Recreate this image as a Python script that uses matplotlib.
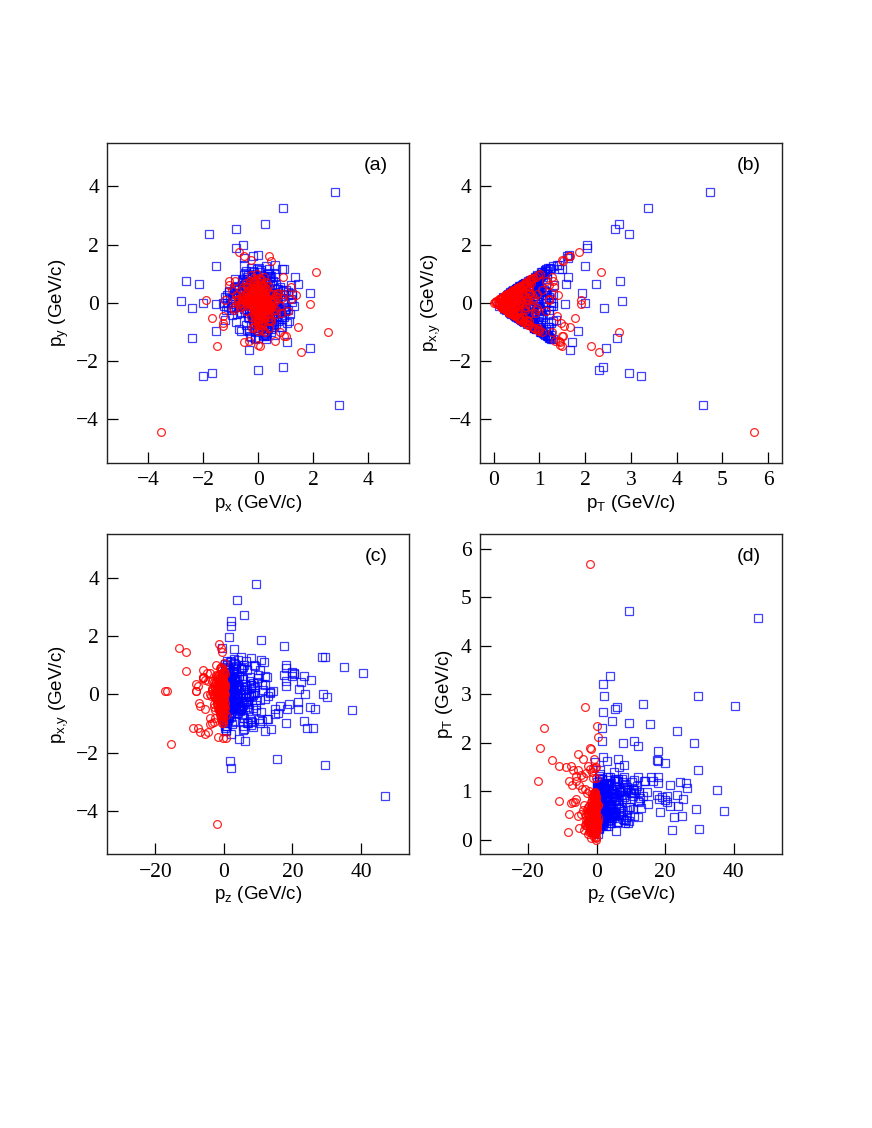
import numpy as np
import matplotlib
matplotlib.use("Agg")
import matplotlib.pyplot as plt

# ---- momenta (GeV/c) ----
# red circles: spread cloud + scattered points
red_px = [0.05, -0.12, 0.22, -0.31, 0.10, -0.45, 0.38, -0.05, 0.15, -0.22,
          0.30, -0.18, 0.02, -0.40, 0.48, -0.08, 0.12, -0.55, 0.25, -0.28,
          0.60, -0.02, 0.18, -0.35, 0.08, -0.62, 0.42, -0.15, 0.33, -0.25,
          -0.70, 0.55, -0.10, 0.28, -0.48, 0.04, 0.68, -0.38, 0.20, -0.06,
          0.14, -0.52, 0.36, -0.20, 0.00, 0.46, -0.33, 0.09, -0.75, 0.24,
          0.72, -0.12, 0.31, -0.44, 0.06, -0.27, 0.52, -0.58, 0.16, -0.03,
          0.40, -0.36, 0.11, -0.66, 0.27, -0.16, 0.58, -0.09, 0.35, -0.50,
          -0.80, 0.64, -0.24, 0.07, -0.42, 0.19, 0.83, -0.30, 0.45, -0.14,
          0.03, -0.60, 0.26, -0.07, 0.50, -0.34, 0.13, -0.85, 0.37, -0.19,
          0.78, -0.46, 0.21, -0.01, 0.62, -0.23, 0.08, -0.72, 0.44, -0.11,
          0.90, -0.92, 0.17, -0.37, 0.29, -0.54, 0.05, 0.66, -0.26, 0.12,
          -0.64, 0.39, -0.04, 0.86, -0.88, 0.23, -0.17, 0.47, -0.41, 0.01,
          -3.55, 2.10, 2.55, 1.55, -1.50, 1.90, -1.90, 1.20, 1.45, -1.70,
          -1.30, -1.30, -1.30, -0.70, -0.50, -0.25, 1.20, 1.38, 1.00, 0.80,
          0.60, -0.50, -0.35, 0.00, 0.05, -0.85, -1.05, -1.05, -1.20, 1.10,
          0.40, 0.45, 0.10, 0.95, 0.10, 0.40, -0.55, 0.70, 0.90, -0.95]
red_py = [0.12, -0.20, 0.35, 0.05, -0.42, 0.18, -0.08, 0.50, -0.30, 0.25,
          -0.15, 0.40, -0.55, 0.02, 0.10, -0.35, 0.62, -0.12, 0.28, -0.48,
          0.06, -0.65, 0.44, 0.22, -0.26, 0.00, -0.18, 0.70, -0.40, 0.15,
          -0.05, 0.30, -0.72, 0.48, 0.08, -0.58, 0.20, -0.10, 0.55, 0.38,
          -0.32, 0.14, -0.22, 0.64, -0.75, 0.04, 0.26, -0.46, 0.10, -0.02,
          0.34, -0.60, 0.16, -0.28, 0.80, 0.42, -0.08, 0.24, -0.38, 0.58,
          -0.50, 0.07, 0.68, -0.16, 0.46, -0.82, 0.12, 0.32, -0.64, 0.20,
          0.28, -0.24, 0.52, -0.90, 0.36, 0.60, -0.36, 0.74, -0.14, -0.44,
          0.85, 0.02, -0.52, 0.40, -0.30, 0.18, -0.70, 0.10, 0.56, -0.06,
          -0.12, 0.66, 0.90, -0.34, 0.22, -0.86, 0.48, 0.14, -0.58, 0.78,
          0.30, -0.18, -0.95, 0.62, 0.72, 0.08, -0.78, -0.40, 0.94, -0.66,
          0.44, -0.88, 1.00, 0.16, -0.26, -1.02, 0.84, -0.62, 0.54, -0.98,
          -4.45, 1.07, -1.00, -1.70, -1.50, -0.05, 0.10, 0.12, -0.82, -0.52,
          -0.45, -0.70, -0.80, 1.73, 1.60, 1.47, 0.55, 0.28, -1.15, -1.00,
          -1.30, -1.35, -1.30, -1.45, -1.50, 0.75, 0.75, 0.60, 0.10, -0.30,
          1.60, 1.45, 0.80, -1.15, 0.12, 0.35, 0.55, 0.30, 0.90, 0.45]
red_pz = [-0.3, -1.1, -0.6, -2.0, -0.1, -0.9, -1.5, -0.4, 0.2, -2.6,
          -0.8, -0.2, -1.3, -3.2, -0.5, 0.1, -1.8, -0.7, -0.05, -1.0,
          -2.3, -0.4, -0.9, -0.15, -1.6, -4.0, -0.6, 0.3, -1.2, -0.25,
          -0.7, -2.8, -0.35, -1.4, -0.1, -0.85, -3.6, -0.55, -1.9, 0.0,
          -0.45, -1.05, -0.2, -2.4, -0.75, -0.3, -1.7, 0.4, -0.95, -5.0,
          -0.15, -1.25, -2.1, -0.6, -0.05, -3.0, -0.8, -1.45, -0.35, -0.5,
          -1.15, -0.1, -2.2, -0.65, -4.5, -0.9, -0.25, -1.55, 0.15, -3.4,
          -0.4, -0.7, -1.35, -0.2, -2.7, -1.0, -0.5, -0.05, -1.85, -0.3,
          -6.0, -0.6, -1.6, -0.15, -0.95, -2.5, 0.5, -1.2, -0.45, -3.8,
          -0.2, -1.4, -0.75, -2.0, -0.1, -0.55, -5.5, -0.85, -1.1, -0.35,
          -0.7, -1.3, -2.9, -0.25, -0.6, -1.75, -0.4, -7.0, -0.9, -0.15,
          -1.5, -0.5, -2.2, -0.3, -1.0, -4.2, -0.8, -0.2, -1.65, -0.45,
          -2.0, 0.0, -3.5, -15.3, 0.5, -2.0, -16.5, -17.2, -4.0, -5.5,
          -3.0, -1.0, -2.5, -1.5, -0.8, -0.5, -6.0, -1.2, -7.5, -0.3,
          -7.0, -5.5, -4.5, -1.8, -0.2, -5.0, -4.0, -6.0, -8.0, -7.2,
          -13.0, -11.0, -11.0, -9.0, -8.2, -8.0, -6.2, -7.5, -1.0, -3.5]

# red circles: the dense low-momentum core
red_px_core = [0.02, -0.08, 0.15, -0.18, 0.06, -0.25, 0.20, -0.03, 0.10, -0.14,
               0.28, -0.10, 0.00, -0.22, 0.12, -0.05, 0.18, -0.30, 0.08, -0.16,
               0.24, -0.01, 0.04, -0.12, 0.32, -0.20, 0.14, -0.07, 0.09, -0.27,
               -0.34, 0.22, -0.04, 0.16, -0.11, 0.01, 0.30, -0.24, 0.05, -0.09,
               0.11, -0.19, 0.26, -0.02, 0.07, -0.29, 0.19, -0.13, 0.03, -0.06,
               0.35, -0.15, 0.13, -0.33, 0.00, 0.21, -0.21, 0.08, -0.36, 0.17,
               -0.04, 0.27, -0.17, 0.10, -0.26, 0.05, 0.38, -0.08, 0.23, -0.12,
               0.01, -0.31, 0.15, -0.05, 0.29, -0.23, 0.06, -0.40, 0.18, -0.10,
               0.40, -0.02, 0.12, -0.18, 0.25, -0.35, 0.03, 0.33, -0.14, 0.09,
               -0.28, 0.20, -0.06, 0.36, -0.38, 0.14, -0.09, 0.02, -0.20, 0.07,
               0.16, -0.25, 0.31, -0.03, 0.04, -0.16, 0.22, -0.30, 0.11, -0.01,
               -0.12, 0.34, -0.22, 0.06, 0.27, -0.07, 0.13, -0.32, 0.19, 0.00]
red_py_core = [0.05, 0.18, -0.10, 0.02, -0.25, 0.12, 0.28, -0.06, -0.18, 0.22,
               -0.02, -0.30, 0.14, 0.08, 0.35, -0.15, -0.04, 0.10, 0.26, -0.22,
               0.16, 0.04, -0.34, -0.12, 0.00, 0.30, -0.20, 0.38, -0.08, 0.06,
               0.20, -0.26, 0.11, 0.32, -0.38, 0.24, -0.14, 0.03, 0.42, -0.32,
               -0.09, 0.15, 0.07, -0.44, 0.19, -0.05, -0.28, 0.36, 0.01, 0.27,
               -0.11, 0.40, -0.24, 0.13, -0.17, 0.09, 0.33, -0.36, 0.02, -0.21,
               0.29, -0.07, 0.21, -0.40, 0.10, 0.45, -0.03, 0.17, -0.30, -0.46,
               0.37, 0.00, -0.16, 0.25, 0.12, -0.08, -0.42, 0.06, 0.31, 0.48,
               -0.19, -0.35, 0.23, 0.44, -0.01, 0.14, 0.50, -0.27, -0.12, 0.34,
               0.08, -0.48, 0.39, -0.10, 0.18, -0.23, 0.05, -0.52, 0.26, 0.41,
               -0.33, 0.02, -0.14, 0.55, -0.40, 0.22, -0.06, 0.11, -0.29, -0.55,
               0.47, -0.18, 0.32, 0.15, -0.09, 0.52, -0.37, 0.20, -0.04, 0.00]
red_pz_core = [-0.2, -0.6, -1.0, -0.1, -0.4, -1.4, -0.3, -0.8, 0.1, -1.8,
               -0.5, -0.15, -1.1, -0.25, -0.7, -2.2, -0.05, -0.9, -0.35, -1.3,
               -0.6, -0.1, -1.6, -0.45, 0.2, -0.8, -1.2, -0.3, -2.6, -0.55,
               -0.15, -1.0, -0.4, -1.9, -0.7, 0.05, -1.5, -0.25, -0.85, -3.0,
               -0.35, -0.65, -1.25, -0.1, -2.0, -0.5, -0.95, 0.3, -1.7, -0.2,
               -0.75, -1.1, -0.3, -2.4, -0.55, -0.05, -1.35, -0.85, -0.4, -1.8,
               -0.15, -2.8, -0.6, -1.0, 0.0, -1.45, -0.35, -0.7, -2.1, -0.25,
               -0.9, -0.45, -1.6, -0.1, -3.4, -0.8, -1.2, -0.3, 0.15, -0.6,
               -1.55, -0.2, -0.95, -2.3, -0.5, -1.05, -0.15, -0.75, -1.9, -0.4,
               -0.05, -1.3, -0.65, -2.7, -0.3, -0.9, -1.15, -0.5, 0.25, -1.4,
               -0.2, -0.8, -2.0, -0.45, -1.0, -0.1, -1.65, -0.6, -0.35, -2.5,
               -1.1, -0.25, -0.7, -1.5, -0.05, -0.95, -0.4, -1.8, -0.55, -0.15]

# blue squares: spread cloud + scattered points
blue_px = [0.10, -0.35, 0.62, -0.80, 0.25, -0.12, 0.95, -0.55, 0.40, -1.05,
           0.05, 0.78, -0.28, 0.50, -0.68, 0.18, -0.92, 1.10, -0.15, 0.33,
           -0.45, 0.85, 0.00, -1.20, 0.58, -0.22, 0.30, -0.75, 1.25, -0.05,
           0.70, -0.38, 0.12, -0.98, 0.46, -0.60, 1.02, -0.18, 0.22, -0.85,
           0.90, -0.02, -0.50, 0.64, -1.12, 0.36, -0.30, 0.80, -0.65, 0.15,
           -0.90, 0.52, 1.15, -0.25, 0.08, -0.72, 0.42, -1.30, 0.74, -0.10,
           0.28, -0.58, 0.98, -0.40, 0.60, -0.95, 0.02, 1.20, -0.48, 0.35,
           -1.00, 0.68, -0.20, 0.88, -0.62, 0.48, -0.08, 1.05, -0.82, 0.20,
           -0.34, 0.55, -1.15, 0.92, -0.52, 0.14, 0.76, -0.70, 0.38, -0.16,
           1.30, -0.44, 0.26, -0.88, 0.66, -0.26, 0.04, -1.08, 0.84, -0.56,
           0.44, -0.78, 1.08, -0.12, 0.32, -0.66, 0.72, -0.36, 0.96, -1.22,
           0.16, -0.46, 0.58, -0.94, 0.82, -0.06, -0.64, 1.18, -0.24, 0.50,
           -0.84, 0.24, -0.54, 0.94, -1.02, 0.06, 0.64, -0.32, 0.86, -0.74,
           0.40, -1.25, 0.12, -0.42, 1.00, -0.14, 0.54, -0.90, 0.30, -0.60,
           0.74, -0.22, 1.12, -0.76, 0.18, -0.50, 0.90, -1.10, 0.46, -0.04,
           -0.30, 0.62, -0.86, 0.34, -0.70, 1.22, -0.18, 0.80, -0.40, 0.08,
           0.56, -1.18, 0.22, -0.58, 0.98, -0.96, 0.42, -0.28, 0.70, -0.12,
           2.80, 0.90, 0.25, -0.80, -1.80, -0.55, -0.80, 0.00, -1.55, -2.65,
           -2.15, -2.80, -2.00, -2.40, -1.55, -1.55, -2.40, -2.00, -1.70, 0.00,
           0.90, 1.90, 2.95, 1.90, 1.45, 1.35, -0.35, 1.05, 0.45, 0.20,
           0.60, 0.20, 0.63, 0.20, 0.30, 0.20, 0.70, 0.95, 0.20, 0.20,
           0.10, 0.70, 0.50, 1.10, 0.30, 0.30, 0.30, 0.60, 1.25, 0.30,
           0.30, 0.40, 0.50, 0.30, -0.50, 0.60, -0.20, -0.50, 0.85, 0.95]
blue_py = [-0.20, 0.45, 0.10, -0.65, 0.82, -1.00, 0.30, 0.05, -0.55, 0.40,
           0.95, -0.30, -0.78, 0.60, 0.15, -1.10, -0.05, 0.25, 1.05, -0.42,
           0.70, -0.85, -1.22, 0.20, 0.50, 0.88, -0.68, -0.15, 0.02, 1.15,
           -0.48, 0.35, 0.78, -0.25, -0.92, 0.62, 0.42, -0.60, -1.05, 0.80,
           0.08, -0.72, 1.00, -0.38, 0.28, 0.98, -1.15, 0.55, -0.10, 0.66,
           0.32, -0.50, -0.40, 1.20, -0.88, 0.45, 0.72, -0.02, -0.62, -1.25,
           0.86, 0.18, -0.30, -0.95, 0.90, -0.44, 0.58, 0.12, 0.75, -0.80,
           -0.18, 0.30, 1.10, -0.56, -0.36, -1.02, 0.68, -0.70, 0.48, 0.92,
           -0.98, 0.76, 0.00, 0.40, 0.62, -0.64, -0.22, -0.90, 1.02, 0.52,
           -0.12, -0.75, -0.45, 0.22, 0.65, -0.35, 1.18, 0.36, -0.84, 0.10,
           0.84, 0.56, 0.38, -1.20, -0.82, -0.06, 0.48, 0.96, -0.26, -0.58,
           -0.90, 1.08, -0.52, 0.04, -0.32, 0.74, -0.96, 0.60, 0.26, -0.66,
           0.54, -1.08, 0.82, -0.14, 0.16, -0.44, -0.74, 0.64, -0.50, 0.34,
           -0.60, -0.10, 1.12, 0.88, -0.20, -0.86, 0.24, 0.50, -1.12, 0.78,
           0.14, 1.00, -0.64, -0.40, -0.30, 0.94, 0.42, -0.16, -0.70, -0.88,
           0.58, 0.06, 0.22, -0.92, 0.46, 0.28, -0.54, -0.34, 0.82, 1.04,
           -0.76, -0.24, -1.00, 0.70, -0.06, 0.16, 0.92, -1.18, -0.46, 0.38,
           3.80, 3.25, 2.72, 2.52, 2.35, 1.97, 1.88, 1.65, 1.27, 0.75,
           0.63, 0.05, 0.00, -0.18, -0.05, -0.98, -1.23, -2.52, -2.43, -2.30,
           -2.22, -1.55, -3.50, 0.32, 0.63, 0.90, -1.62, -1.35, 0.93, -0.55,
           1.30, -0.10, 0.02, -1.15, -1.15, -0.90, 0.48, -0.50, -0.45, 0.42,
           0.18, 0.02, -0.50, -0.25, 0.77, 0.72, -0.50, 1.00, 0.30, -1.25,
           -1.00, 1.17, -0.85, 1.25, 1.30, -1.10, 1.60, 1.55, 1.15, 1.15]
blue_pz = [0.8, 2.5, 0.3, 4.2, 1.5, 6.8, 0.5, 3.1, 9.5, 1.2,
           5.5, 0.2, 2.0, 12.5, 3.8, 0.9, 7.2, 1.8, 0.4, 4.8,
           2.8, 10.2, 0.6, 5.0, 1.4, 3.4, 15.0, 0.1, 6.2, 2.2,
           8.5, 1.0, 3.0, 0.7, 11.0, 4.5, 1.9, 0.3, 7.8, 2.6,
           13.5, 0.5, 5.8, 1.6, 3.6, 9.0, 0.2, 2.4, 6.5, 1.1,
           4.0, 0.8, 16.5, 2.9, 0.4, 7.5, 1.3, 3.3, 10.8, 0.6,
           5.2, 2.1, 0.9, 8.2, 1.7, 4.4, 0.3, 14.2, 2.7, 6.0,
           1.0, 3.7, 11.8, 0.5, 5.6, 2.3, 9.8, 1.5, 0.2, 4.9,
           7.0, 1.2, 3.2, 0.7, 12.0, 2.0, 6.4, 0.4, 8.8, 1.8,
           3.9, 0.1, 5.3, 2.5, 17.5, 1.4, 4.1, 0.9, 7.6, 3.0,
           0.6, 10.0, 2.2, 5.9, 1.6, 13.0, 0.3, 3.5, 6.8, 1.0,
           8.0, 2.8, 0.5, 4.6, 19.0, 1.3, 3.1, 0.8, 9.2, 5.4,
           2.0, 0.2, 6.6, 1.7, 11.5, 3.6, 0.7, 4.3, 14.8, 2.4,
           0.4, 7.4, 1.9, 5.1, 0.6, 12.8, 3.4, 1.1, 8.4, 2.6,
           6.1, 0.9, 15.8, 1.5, 4.0, 0.3, 9.6, 2.1, 5.7, 1.2,
           3.8, 0.5, 7.9, 2.9, 18.2, 1.6, 4.7, 0.8, 10.5, 3.3,
           1.4, 6.3, 0.2, 20.5, 2.3, 5.0, 0.6, 13.8, 3.0, 8.6,
           9.5, 3.8, 6.0, 2.0, 2.2, 1.5, 10.8, 17.5, 28.5, 40.5,
           23.5, 13.5, 7.8, 9.5, 8.0, 18.0, 5.5, 2.0, 29.5, 1.7,
           15.5, 4.5, 47.0, 12.0, 20.0, 18.0, 6.2, 2.0, 35.0, 37.3,
           29.5, 30.0, 29.0, 26.0, 24.2, 23.5, 25.3, 26.5, 25.0, 22.5,
           22.0, 23.6, 21.5, 21.5, 20.0, 20.5, 18.5, 18.0, 18.0, 12.0,
           10.5, 10.8, 12.5, 8.0, 5.0, 5.5, -0.5, 3.0, 0.9, 6.5]

# blue squares: the dense low-momentum core
blue_px_core = [0.05, -0.20, 0.32, -0.42, 0.14, -0.08, 0.48, -0.30, 0.22, -0.55,
                0.00, 0.38, -0.15, 0.26, -0.36, 0.10, -0.50, 0.58, -0.06, 0.18,
                -0.25, 0.44, 0.02, -0.62, 0.30, -0.12, 0.16, -0.40, 0.65, -0.03,
                0.36, -0.22, 0.07, -0.52, 0.24, -0.32, 0.54, -0.10, 0.12, -0.45,
                0.46, -0.01, -0.28, 0.34, -0.58, 0.20, -0.16, 0.42, -0.35, 0.08,
                -0.48, 0.28, 0.60, -0.14, 0.04, -0.38, 0.22, -0.68, 0.40, -0.05,
                0.15, -0.30, 0.52, -0.21, 0.32, -0.50, 0.01, 0.62, -0.26, 0.19,
                -0.54, 0.36, -0.11, 0.46, -0.33, 0.25, -0.04, 0.56, -0.44, 0.11,
                -0.18, 0.30, -0.60, 0.48, -0.27, 0.07, 0.40, -0.37, 0.20, -0.09,
                0.70, -0.23, 0.14, -0.46, 0.35, -0.14, 0.02, -0.57, 0.44, -0.30,
                0.23, -0.41, 0.57, -0.06, 0.17, -0.35, 0.38, -0.19, 0.51, -0.64,
                0.09, -0.24, 0.31, -0.49, 0.43, -0.03, -0.34, 0.63, -0.13, 0.27]
blue_py_core = [-0.10, 0.24, 0.06, -0.35, 0.44, -0.52, 0.16, 0.03, -0.30, 0.21,
                0.50, -0.16, -0.42, 0.32, 0.08, -0.58, -0.02, 0.14, 0.56, -0.22,
                0.38, -0.45, -0.64, 0.11, 0.27, 0.47, -0.36, -0.08, 0.01, 0.61,
                -0.26, 0.19, 0.42, -0.13, -0.49, 0.33, 0.22, -0.32, -0.56, 0.43,
                0.04, -0.38, 0.53, -0.20, 0.15, 0.52, -0.61, 0.29, -0.05, 0.35,
                0.17, -0.27, -0.21, 0.64, -0.47, 0.24, 0.38, -0.01, -0.33, -0.66,
                0.46, 0.10, -0.16, -0.50, 0.48, -0.23, 0.31, 0.06, 0.40, -0.43,
                -0.10, 0.16, 0.58, -0.30, -0.19, -0.54, 0.36, -0.37, 0.26, 0.49,
                -0.52, 0.41, 0.00, 0.21, 0.33, -0.34, -0.12, -0.48, 0.54, 0.28,
                -0.06, -0.40, -0.24, 0.12, 0.35, -0.19, 0.63, 0.19, -0.45, 0.05,
                0.45, 0.30, 0.20, -0.64, -0.44, -0.03, 0.26, 0.51, -0.14, -0.31,
                -0.48, 0.57, -0.28, 0.02, -0.17, 0.39, -0.51, 0.32, 0.14, -0.35]
blue_pz_core = [0.4, 1.2, 0.2, 2.5, 0.8, 4.0, 0.3, 1.8, 6.0, 0.6,
                3.2, 0.1, 1.0, 8.0, 2.2, 0.5, 4.6, 0.9, 0.2, 2.8,
                1.5, 6.8, 0.3, 3.0, 0.7, 2.0, 9.5, 0.1, 3.8, 1.1,
                5.2, 0.5, 1.6, 0.4, 7.2, 2.6, 1.0, 0.2, 4.8, 1.4,
                8.8, 0.3, 3.5, 0.8, 2.1, 5.6, 0.1, 1.3, 4.1, 0.6,
                2.4, 0.4, 10.5, 1.7, 0.2, 4.5, 0.7, 1.9, 7.0, 0.3,
                3.1, 1.2, 0.5, 5.0, 0.9, 2.7, 0.2, 9.0, 1.5, 3.6,
                0.5, 2.2, 7.6, 0.3, 3.4, 1.3, 6.2, 0.8, 0.1, 2.9,
                4.4, 0.6, 1.8, 0.4, 7.8, 1.1, 3.9, 0.2, 5.5, 0.9,
                2.3, 0.1, 3.2, 1.4, 11.0, 0.7, 2.5, 0.5, 4.7, 1.7,
                0.3, 6.5, 1.2, 3.7, 0.8, 8.4, 0.2, 2.0, 4.2, 0.5,
                5.0, 1.6, 0.3, 2.8, 12.0, 0.7, 1.9, 0.4, 5.8, 3.3]

red_px = np.array(red_px + red_px_core)
red_py = np.array(red_py + red_py_core)
red_pz = np.array(red_pz + red_pz_core)
blue_px = np.array(blue_px + blue_px_core)
blue_py = np.array(blue_py + blue_py_core)
blue_pz = np.array(blue_pz + blue_pz_core)
red_pt = np.hypot(red_px, red_py)
blue_pt = np.hypot(blue_px, blue_py)

plt.rcParams['mathtext.default'] = 'regular'

fig = plt.figure(figsize=(8.72, 11.28), dpi=100)

W = 0.346
H = 0.2837
positions = [[0.1231, 0.5898, W, H], [0.5505, 0.5898, W, H],
             [0.1231, 0.2426, W, H], [0.5505, 0.2426, W, H]]

panels = [
    # (blue x, blue y, red x, red y, xlabel, ylabel, xlim, ylim, xticks, yticks, tag)
    (blue_px, blue_py, red_px, red_py, 'p$_x$ (GeV/c)', 'p$_y$ (GeV/c)',
     (-5.5, 5.5), (-5.5, 5.5), [-4, -2, 0, 2, 4], [-4, -2, 0, 2, 4], '(a)'),
    (blue_pt, blue_py, red_pt, red_py, 'p$_T$ (GeV/c)', 'p$_{x{,}y}$ (GeV/c)',
     (-0.3, 6.3), (-5.5, 5.5), [0, 1, 2, 3, 4, 5, 6], [-4, -2, 0, 2, 4], '(b)'),
    (blue_pz, blue_py, red_pz, red_py, 'p$_z$ (GeV/c)', 'p$_{x{,}y}$ (GeV/c)',
     (-34, 54), (-5.5, 5.5), [-20, 0, 20, 40], [-4, -2, 0, 2, 4], '(c)'),
    (blue_pz, blue_pt, red_pz, red_pt, 'p$_z$ (GeV/c)', 'p$_T$ (GeV/c)',
     (-34, 54), (-0.3, 6.3), [-20, 0, 20, 40], [0, 1, 2, 3, 4, 5, 6], '(d)'),
]

for pos, (bx, by, rx, ry, xl, yl, xlim, ylim, xt, yt, tag) in zip(positions, panels):
    ax = fig.add_axes(pos)
    ax.plot(bx, by, ls='none', marker='s', ms=5.3, mfc='none', mec='#0000ff',
            mew=0.9, alpha=0.75)
    ax.plot(rx, ry, ls='none', marker='o', ms=5.6, mfc='none', mec='#ff0000',
            mew=0.9, alpha=0.85)
    ax.set_xlim(*xlim)
    ax.set_ylim(*ylim)
    ax.set_xticks(xt)
    ax.set_yticks(yt)
    ax.set_xticklabels([str(v).replace('-', '\u2212') for v in xt],
                       family='Liberation Serif', fontsize=15.5)
    ax.set_yticklabels([str(v).replace('-', '\u2212') for v in yt],
                       family='Liberation Serif', fontsize=15.5)
    ax.tick_params(direction='in', length=8, width=0.9, pad=6,
                   top=False, right=False)
    for s in ax.spines.values():
        s.set_linewidth(1.0)
        s.set_color('#222222')
    ax.set_xlabel(xl, family='Liberation Sans', fontsize=13.5, labelpad=2)
    ax.set_ylabel(yl, family='Liberation Sans', fontsize=13.5, labelpad=4)
    ax.text(0.89, 0.93, tag, transform=ax.transAxes, ha='center', va='center',
            family='Liberation Sans', fontsize=14)

fig.savefig('out.png', dpi=100)
